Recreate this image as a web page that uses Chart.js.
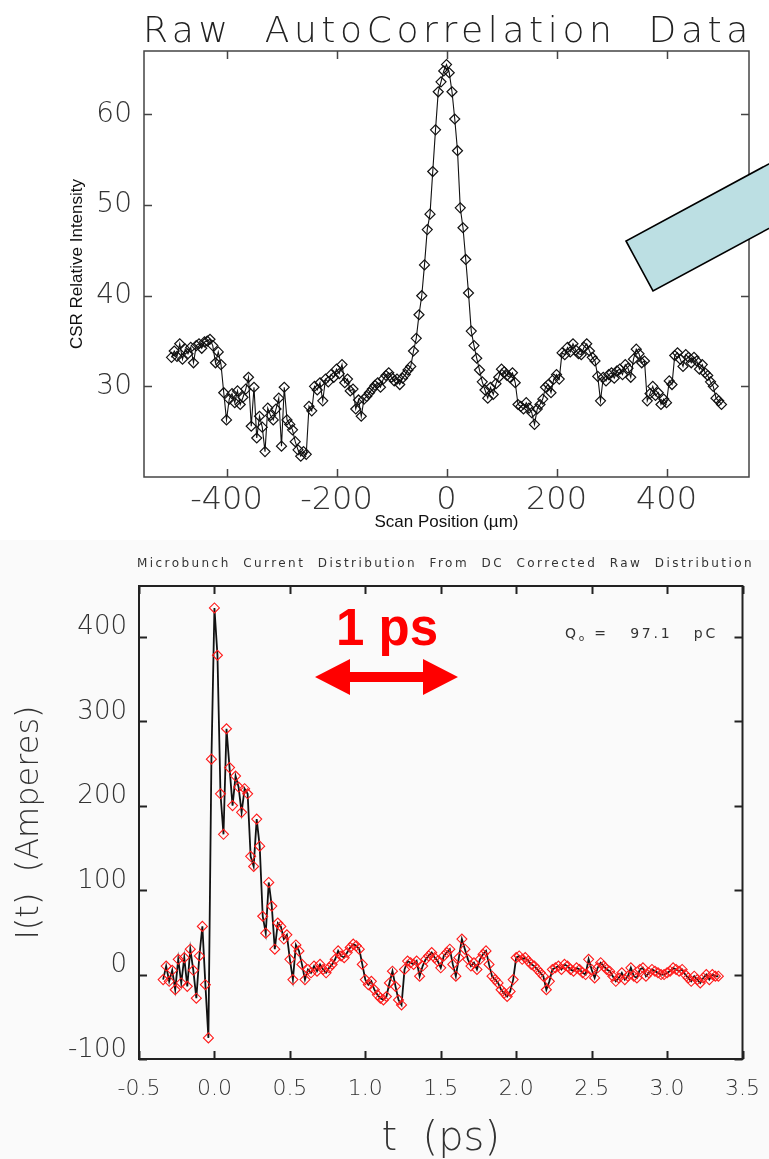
<!DOCTYPE html>
<html><head><meta charset="utf-8">
<script src="https://cdn.jsdelivr.net/npm/chart.js@4"></script>
<style>
html,body{margin:0;padding:0;background:#fff;}
#wrap{position:relative;width:769px;height:1159px;overflow:hidden;background:#fff;}
#lowerBg{position:absolute;left:0;top:540px;width:769px;height:619px;background:#fafafa;}
canvas{position:absolute;left:0;}
#c1{top:0;}
#c2{top:545px;}
.txt{position:absolute;white-space:pre;line-height:1;}
</style></head>
<body><div id="wrap">
<div id="lowerBg"></div>
<canvas id="c1" width="769" height="540"></canvas>
<canvas id="c2" width="769" height="614"></canvas>
<div class="txt" id="t1" style="left:143px;top:9px;font:200 36px 'DejaVu Sans';color:#222;">Raw  AutoCorrelation  Data</div>
<div class="txt" id="t2" style="left:137px;top:556px;font:400 12px 'DejaVu Sans';color:#333;">Microbunch  Current  Distribution  From  DC  Corrected  Raw  Distribution</div>
<div class="txt" style="left:336px;top:598px;font:bold 51px 'Liberation Sans',Arial,sans-serif;color:#ff0000;">1 ps</div>
<div class="txt" id="t3" style="left:565px;top:625px;font:400 14px 'DejaVu Sans';color:#333;">Q<span style="font-size:9px;position:relative;top:3px;">o</span> =   97.1   pC</div>
<svg style="position:absolute;left:0;top:0;" width="769" height="1159">
<polygon points="315,677 350,659 350,672 423,672 423,659 458,677 423,695 423,682 350,682 350,695" fill="#ff0000"/>
<polygon points="626,241 653,291 829,196 802,146" fill="#bcdfe3" stroke="#000" stroke-width="1.6"/>
</svg>
</div>
<script>
// ---------- Top chart: Raw AutoCorrelation Data ----------
const scanPosition = [
-500,-495,-490,-485,-480,-475,-470,-465,-460,-455,
-450,-445,-440,-435,-430,-425,-420,-415,-410,-405,
-400,-395,-390,-385,-380,-375,-370,-365,-360,-355,
-350,-345,-340,-335,-330,-325,-320,-315,-310,-305,
-300,-295,-290,-285,-280,-275,-270,-265,-260,-255,
-250,-245,-240,-235,-230,-225,-220,-215,-210,-205,
-200,-195,-190,-185,-180,-175,-170,-165,-160,-155,
-150,-145,-140,-135,-130,-125,-120,-115,-110,-105,
-100,-95,-90,-85,-80,-75,-70,-65,-60,-55,
-50,-45,-40,-35,-30,-25,-20,-15,-10,-5,
0,5,10,15,20,25,30,35,40,45,
50,55,60,65,70,75,80,85,90,95,
100,105,110,115,120,125,130,135,140,145,
150,155,160,165,170,175,180,185,190,195,
200,205,210,215,220,225,230,235,240,245,
250,255,260,265,270,275,280,285,290,295,
300,305,310,315,320,325,330,335,340,345,
350,355,360,365,370,375,380,385,390,395,
400,405,410,415,420,425,430,435,440,445,
450,455,460,465,470,475,480,485,490,495,
500];
const csrIntensity = [
33.2,33.9,33.3,34.7,33.0,34.1,33.6,34.3,32.6,34.5,
34.7,34.2,34.9,35.0,35.2,34.5,32.6,33.8,32.4,29.3,
26.3,28.6,29.2,28.2,29.5,28.0,28.8,29.7,31.0,25.6,
29.9,24.3,26.7,25.5,22.8,27.6,26.8,26.3,27.5,28.7,
23.4,29.9,26.3,25.8,25.2,23.9,23.0,22.3,22.8,22.5,
27.8,27.3,30.0,29.6,30.4,28.4,30.8,30.5,31.3,31.0,
31.9,31.4,32.4,30.4,30.8,29.5,29.7,27.5,28.5,26.7,
28.6,28.9,29.3,29.7,30.1,30.4,29.9,30.8,31.2,31.5,
31.0,30.6,30.8,30.2,30.9,31.3,31.8,32.2,33.9,35.3,
37.9,40.0,43.4,47.3,49.0,53.7,58.3,62.5,63.6,64.8,
65.5,64.6,62.5,59.5,56.0,49.7,47.5,44.0,40.3,36.1,
34.5,33.1,31.8,30.5,29.6,28.7,29.9,29.1,30.3,31.0,
31.9,31.6,31.2,31.0,31.5,30.4,28.0,27.8,27.5,28.2,
27.6,27.1,25.8,27.5,28.0,28.6,29.9,30.2,29.3,30.8,
31.3,30.8,33.7,33.5,34.3,33.8,34.7,34.0,33.6,33.5,
34.3,34.7,33.9,33.2,32.8,31.1,28.4,31.0,30.6,31.3,
31.5,30.9,31.7,31.9,31.3,32.4,32.0,31.0,33.0,34.1,
33.6,32.6,32.8,28.4,29.2,30.0,29.0,29.3,28.0,28.6,
28.2,30.6,30.2,33.4,33.7,33.0,32.2,33.5,33.2,32.6,
33.2,32.8,31.9,32.4,31.5,31.2,30.5,30.0,28.7,28.4,
28.0];
const topXTicks = [-400,-200,0,200,400];
const topYTicks = [30,40,50,60];

// ---------- Bottom chart: Microbunch current distribution ----------
const timePs = [
-0.34,-0.32,-0.30,-0.28,-0.26,-0.24,-0.22,-0.20,-0.18,-0.16,
-0.14,-0.12,-0.10,-0.08,-0.06,-0.04,-0.02,0.00,0.02,0.04,
0.06,0.08,0.10,0.12,0.14,0.16,0.18,0.20,0.22,0.24,
0.26,0.28,0.30,0.32,0.34,0.36,0.38,0.40,0.42,0.44,
0.46,0.48,0.50,0.52,0.54,0.56,0.58,0.60,0.62,0.64,
0.66,0.68,0.70,0.72,0.74,0.76,0.78,0.80,0.82,0.84,
0.86,0.88,0.90,0.92,0.94,0.96,0.98,1.00,1.02,1.04,
1.06,1.08,1.10,1.12,1.14,1.16,1.18,1.20,1.22,1.24,
1.26,1.28,1.30,1.32,1.34,1.36,1.38,1.40,1.42,1.44,
1.46,1.48,1.50,1.52,1.54,1.56,1.58,1.60,1.62,1.64,
1.66,1.68,1.70,1.72,1.74,1.76,1.78,1.80,1.82,1.84,
1.86,1.88,1.90,1.92,1.94,1.96,1.98,2.00,2.02,2.04,
2.06,2.08,2.10,2.12,2.14,2.16,2.18,2.20,2.22,2.24,
2.26,2.28,2.30,2.32,2.34,2.36,2.38,2.40,2.42,2.44,
2.46,2.48,2.50,2.52,2.54,2.56,2.58,2.60,2.62,2.64,
2.66,2.68,2.70,2.72,2.74,2.76,2.78,2.80,2.82,2.84,
2.86,2.88,2.90,2.92,2.94,2.96,2.98,3.00,3.02,3.04,
3.06,3.08,3.10,3.12,3.14,3.16,3.18,3.20,3.22,3.24,
3.26,3.28,3.30,3.32,3.34];
const currentAmps = [
-6,10,-8,5,-18,18,-10,20,-14,30,
5,-28,22,57,-12,-75,255,434,378,214,
166,291,245,200,235,222,192,220,214,140,
128,184,152,69,49,109,81,30,61,57,
42,47,18,-6,35,28,12,-6,6,2,
10,4,12,6,2,8,12,18,28,22,
20,26,32,36,34,30,12,-6,-12,-8,
-18,-24,-28,-30,-26,-10,4,-14,-30,-36,
6,16,14,12,16,-2,10,18,22,26,
20,16,8,22,26,30,12,-2,20,42,
30,18,10,14,6,18,24,28,12,-2,
-6,-10,-18,-22,-26,-20,-6,20,22,18,
20,16,12,10,6,2,-2,-18,-8,6,
8,10,6,12,10,6,4,8,6,2,
0,18,6,-4,8,14,10,6,4,-2,
-8,-4,2,-6,-2,8,-2,-4,6,8,
-2,2,6,4,2,0,0,2,4,8,
6,4,6,0,-4,-8,-2,-6,-10,-4,
0,-6,0,-2,-2];
const bottomXTicks = [-0.5,0,0.5,1.0,1.5,2.0,2.5,3.0,3.5];
const bottomYTicks = [-100,0,100,200,300,400];

// plugin: frame with inward ticks on all four sides
const frameTicks = {
  id: 'frameTicks',
  afterDatasetsDraw(chart, args, o) {
    const {ctx, chartArea: a, scales} = chart;
    ctx.save();
    ctx.strokeStyle = o.color; ctx.lineWidth = o.width;
    ctx.strokeRect(a.left, a.top, a.right - a.left, a.bottom - a.top);
    ctx.beginPath();
    for (const t of scales.x.ticks) {
      const p = Math.round(scales.x.getPixelForValue(t.value)) + 0.5;
      ctx.moveTo(p, a.bottom); ctx.lineTo(p, a.bottom - o.len);
      ctx.moveTo(p, a.top); ctx.lineTo(p, a.top + o.len);
    }
    for (const t of scales.y.ticks) {
      const p = Math.round(scales.y.getPixelForValue(t.value)) + 0.5;
      ctx.moveTo(a.left, p); ctx.lineTo(a.left + o.len, p);
      ctx.moveTo(a.right, p); ctx.lineTo(a.right - o.len, p);
    }
    ctx.stroke();
    ctx.restore();
  }
};

const thin = 'DejaVu Sans';

new Chart(document.getElementById('c1'), {
  type: 'line',
  data: { datasets: [{
    data: scanPosition.map((x, i) => ({x: x, y: csrIntensity[i]})),
    borderColor: '#111', borderWidth: 1.1, tension: 0,
    pointStyle: 'rectRot', pointRadius: 5, pointBorderColor: '#111',
    pointBorderWidth: 1.2, pointBackgroundColor: 'rgba(255,255,255,0)'
  }]},
  plugins: [frameTicks],
  options: {
    responsive: false, animation: false, devicePixelRatio: 1,
    layout: { padding: { left: 0, right: 20, top: 51, bottom: 0 } },
    plugins: { legend: {display: false}, tooltip: {enabled: false},
      frameTicks: { color: '#444', width: 1.5, len: 8 } },
    scales: {
      x: { type: 'linear', min: -550, max: 550,
        afterBuildTicks: s => { s.ticks = topXTicks.map(v => ({value: v})); },
        afterFit: s => { s.height = 63; },
        grid: {display: false}, border: {display: false},
        ticks: { font: {family: thin, size: 32, weight: 200}, color: '#333', padding: -4, maxRotation: 0 },
        title: { display: true, text: 'Scan Position (µm)', color: '#111',
          font: {family: 'Liberation Sans', size: 17}, padding: {top: 0, bottom: 7} } },
      y: { min: 20, max: 67,
        afterBuildTicks: s => { s.ticks = topYTicks.map(v => ({value: v})); },
        afterFit: s => { s.width = 144; },
        grid: {display: false}, border: {display: false},
        ticks: { font: {family: thin, size: 28, weight: 200}, color: '#333', padding: 4 },
        title: { display: true, text: 'CSR Relative Intensity', color: '#111',
          font: {family: 'Liberation Sans', size: 17}, padding: {top: 67, bottom: 0} } }
    }
  }
});

new Chart(document.getElementById('c2'), {
  type: 'line',
  data: { datasets: [{
    data: timePs.map((x, i) => ({x: x, y: currentAmps[i]})),
    borderColor: '#111', borderWidth: 1.8, tension: 0,
    pointStyle: 'rectRot', pointRadius: 5, pointBorderColor: '#ff1a1a',
    pointBorderWidth: 1.1, pointBackgroundColor: 'rgba(255,255,255,0)'
  }]},
  plugins: [frameTicks],
  options: {
    responsive: false, animation: false, devicePixelRatio: 1,
    layout: { padding: { left: 0, right: 19, top: 41, bottom: 0 } },
    plugins: { legend: {display: false}, tooltip: {enabled: false},
      frameTicks: { color: '#222', width: 2, len: 8 } },
    scales: {
      x: { type: 'linear', min: -0.5, max: 3.5,
        afterBuildTicks: s => { s.ticks = bottomXTicks.map(v => ({value: v})); },
        afterFit: s => { s.height = 100; },
        grid: {display: false}, border: {display: false},
        ticks: { font: {family: thin, size: 22, weight: 200}, color: '#333', padding: 9, maxRotation: 0,
          callback: v => Number(v).toFixed(1) },
        title: { display: true, text: 't  (ps)', color: '#333',
          font: {family: thin, size: 40, weight: 200}, padding: {top: 0, bottom: -5} } },
      y: { min: -100, max: 460,
        afterBuildTicks: s => { s.ticks = bottomYTicks.map(v => ({value: v})); },
        afterFit: s => { s.width = 139; },
        grid: {display: false}, border: {display: false},
        ticks: { font: {family: thin, size: 26, weight: 200}, color: '#333', padding: 4, labelOffset: -9 },
        title: { display: true, text: 'I(t)  (Amperes)', color: '#333',
          font: {family: thin, size: 32, weight: 200}, padding: {top: 10, bottom: 0} } }
    }
  }
});

// fit the decorative titles to the reference widths via letter spacing
function fitWidth(id, target) {
  const el = document.getElementById(id);
  const chars = el.textContent.length;
  el.style.letterSpacing = '0px';
  const w = el.getBoundingClientRect().width;
  el.style.letterSpacing = ((target - w) / chars) + 'px';
}
fitWidth('t1', 610);
fitWidth('t2', 617);
fitWidth('t3', 153);
</script>
</body></html>
